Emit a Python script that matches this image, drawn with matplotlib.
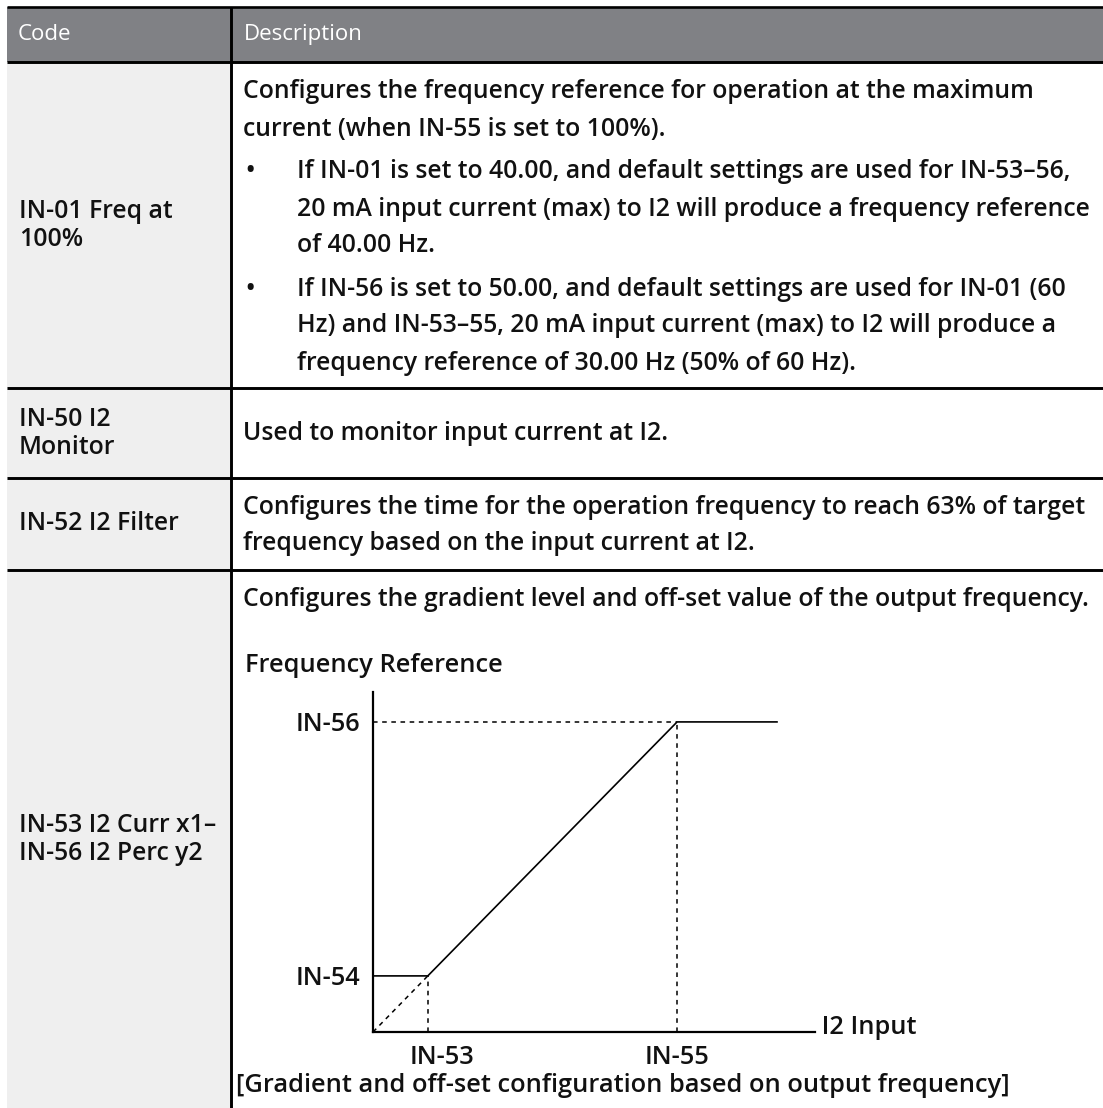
import matplotlib
matplotlib.use("Agg")
import matplotlib.pyplot as plt
from matplotlib.patches import Rectangle
from matplotlib.transforms import ScaledTranslation

plt.rcParams['font.family'] = ['Open Sans', 'DejaVu Sans']

# ---------------- data ----------------
header_labels = ["Code", "Description"]
code_labels = [
    ["IN-01 Freq at", "100%"],
    ["IN-50 I2", "Monitor"],
    ["IN-52 I2 Filter"],
    ["IN-53 I2 Curr x1–", "IN-56 I2 Perc y2"],
]
row1_intro = ["Configures the frequency reference for operation at the maximum",
              "current (when IN-55 is set to 100%)."]
row1_bullets = [
    ["If IN-01 is set to 40.00, and default settings are used for IN-53–56,",
     "20 mA input current (max) to I2 will produce a frequency reference",
     "of 40.00 Hz."],
    ["If IN-56 is set to 50.00, and default settings are used for IN-01 (60",
     "Hz) and IN-53–55, 20 mA input current (max) to I2 will produce a",
     "frequency reference of 30.00 Hz (50% of 60 Hz)."],
]
row2_desc = ["Used to monitor input current at I2."]
row3_desc = ["Configures the time for the operation frequency to reach 63% of target",
             "frequency based on the input current at I2."]
row4_desc = "Configures the gradient level and off-set value of the output frequency."
chart_title = "Frequency Reference"
chart_caption = "[Gradient and off-set configuration based on output frequency]"
x_axis_label = "I2 Input"

# chart values (percent of axis span)
x_in53 = 12.4      # IN-53
x_in55 = 68.8      # IN-55
x_end = 91.4       # end of plateau
y_in54 = 16.5      # IN-54
y_in56 = 91.2      # IN-56
x_tick_labels = ["IN-53", "IN-55"]
y_tick_labels = ["IN-54", "IN-56"]

# ---------------- layout ----------------
W, H = 1103, 1108
fig = plt.figure(figsize=(W / 100, H / 100), dpi=100)
ax = fig.add_axes([0, 0, 1, 1])
ax.set_xlim(0, W)
ax.set_ylim(H, 0)
ax.axis('off')

left, div, right = 7, 231, W
top, head_bot = 7, 62
row_lines = [388, 478, 570]
rows = [(head_bot, 388), (388, 478), (478, 570), (570, H)]

HEAD_GRAY = '#808185'
COL_GRAY = '#efefef'
TXT = '#111111'
FS = 17.8
LS = 37
CFS = 18.3

ax.add_patch(Rectangle((left, top), right - left, head_bot - top, color=HEAD_GRAY, lw=0))
ax.add_patch(Rectangle((left, head_bot), div - left, H - head_bot, color=COL_GRAY, lw=0))

ax.plot([left, right], [top, top], color='black', lw=1.9, solid_capstyle='butt')
ax.plot([left, right], [head_bot, head_bot], color='black', lw=2.1, solid_capstyle='butt')
for y in row_lines:
    ax.plot([left, right], [y, y], color='black', lw=2.1, solid_capstyle='butt')
ax.plot([div, div], [top, H], color='black', lw=2.1, solid_capstyle='butt')

# header
ax.text(18, (top + head_bot) / 2, header_labels[0], color='white', fontsize=16,
        va='center', ha='left')
ax.text(244, (top + head_bot) / 2, header_labels[1], color='white', fontsize=16,
        va='center', ha='left')

# code column
CLS = 28
for (y0, y1), lines in zip(rows, code_labels):
    c = (y0 + y1) / 2
    n = len(lines)
    for i, t in enumerate(lines):
        yy = c + (i - (n - 1) / 2) * CLS
        ax.text(19, yy, t, fontsize=FS, fontweight='semibold', color=TXT,
                va='center', ha='left')

def put(x, y, t, **kw):
    ax.text(x, y, t, fontsize=kw.pop('fs', FS), fontweight='semibold', color=TXT,
            va='center', ha='left', **kw)

# row 1
y = 92
for t in row1_intro:
    put(243, y, t)
    y += LS
y = 172
for b in row1_bullets:
    put(245, y, "•")
    for t in b:
        put(297, y, t)
        y += LS
    y += 6

# row 2
put(243, 433, row2_desc[0])

# row 3
for i, t in enumerate(row3_desc):
    put(243, 507 + i * 36, t)

# row 4
put(243, 600, row4_desc)
put(245, 665, chart_title, fs=CFS)
put(236, 1086, chart_caption, fs=CFS)

# ---------------- chart ----------------
ax_l, ax_r, ax_t, ax_b = 373, 815, 692, 1032
cax = fig.add_axes([ax_l / W, 1 - ax_b / H, (ax_r - ax_l) / W, (ax_b - ax_t) / H])
cax.set_xlim(0, 100)
cax.set_ylim(0, 100)
cax.patch.set_alpha(0)
for s in ['top', 'right']:
    cax.spines[s].set_visible(False)
for s in ['left', 'bottom']:
    cax.spines[s].set_linewidth(1.6)

curve_x = [0, x_in53, x_in55, x_end]
curve_y = [y_in54, y_in54, y_in56, y_in56]
cax.plot(curve_x, curve_y, color='black', lw=1.2, solid_joinstyle='miter')

dash = dict(color='black', lw=1.1, linestyle=(0, (3, 3)))
cax.plot([0, x_in53], [0, y_in54], **dash)
cax.plot([x_in53, x_in53], [0, y_in54], **dash)
cax.plot([x_in55, x_in55], [0, y_in56], **dash)
cax.plot([0, x_in55], [y_in56, y_in56], **dash)

cax.set_xticks([x_in53, x_in55], x_tick_labels)
cax.set_yticks([y_in54, y_in56], y_tick_labels)
cax.tick_params(length=0, labelsize=CFS, colors=TXT)
cax.tick_params(axis='x', pad=9)
cax.tick_params(axis='y', pad=9)
for lab in cax.get_xticklabels() + cax.get_yticklabels():
    lab.set_fontweight('semibold')
lab53 = cax.get_xticklabels()[0]
lab53.set_transform(lab53.get_transform() + ScaledTranslation(0.14, 0, fig.dpi_scale_trans))

cax.text(1.0, 0.012, " " + x_axis_label, transform=cax.transAxes, fontsize=CFS,
         fontweight='semibold', color=TXT, va='center', ha='left')

fig.savefig("out.png", dpi=100)
